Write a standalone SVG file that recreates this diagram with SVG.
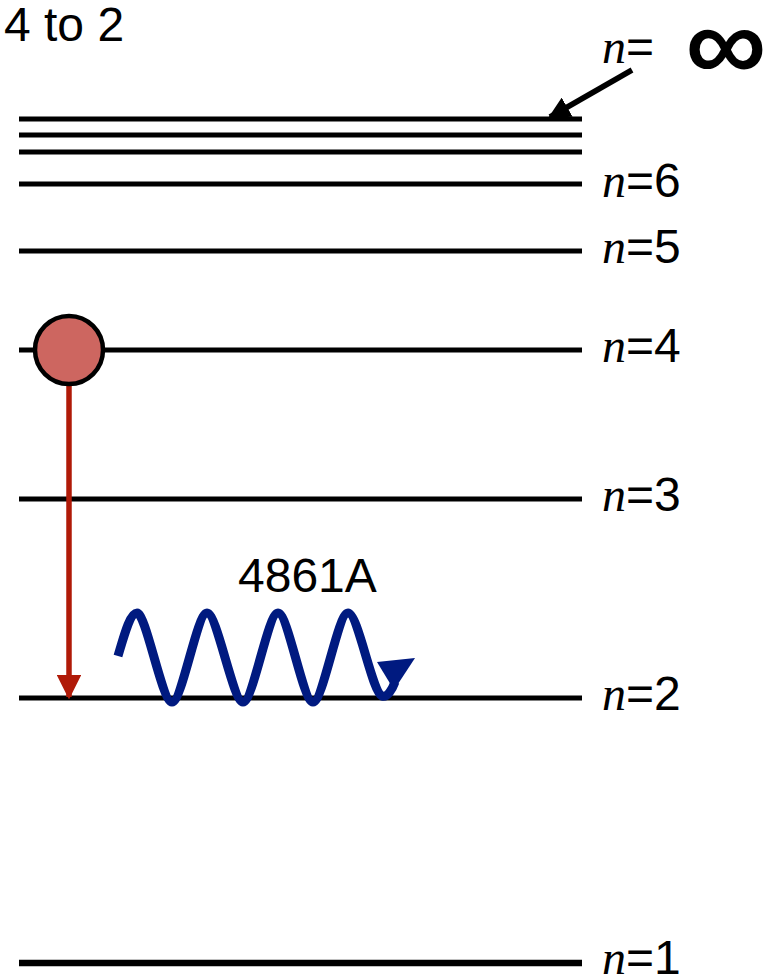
<svg xmlns="http://www.w3.org/2000/svg" width="763" height="977" viewBox="0 0 763 977">
<defs>
<style>
.lvl{stroke:#000;stroke-width:4.8;fill:none}
.t{font-family:"Liberation Sans",Arial,sans-serif;font-size:48px;fill:#000}
.n{font-family:"Liberation Serif","Times New Roman",serif;font-style:italic}
</style>
<marker id="ab" viewBox="0 0 10 10" refX="9" refY="5" markerWidth="4" markerHeight="4" markerUnits="strokeWidth" orient="auto"><path d="M0,0 L10,5 L0,10 Z" fill="#000"/></marker>
<marker id="ar" viewBox="0 0 10 10" refX="9" refY="5" markerWidth="4.5" markerHeight="4.5" markerUnits="strokeWidth" orient="auto"><path d="M0,0 L10,5 L0,10 Z" fill="#b01a08"/></marker>
</defs>
<g id="levels">
<line class="lvl" x1="19" y1="119" x2="582" y2="119"/>
<line class="lvl" x1="19" y1="135" x2="582" y2="135"/>
<line class="lvl" x1="19" y1="152" x2="582" y2="152"/>
<line class="lvl" x1="19" y1="184" x2="582" y2="184"/>
<line class="lvl" x1="19" y1="251" x2="582" y2="251"/>
<line class="lvl" x1="19" y1="350" x2="582" y2="350"/>
<line class="lvl" x1="19" y1="499" x2="582" y2="499"/>
<line class="lvl" x1="19" y1="698" x2="582" y2="698"/>
<line class="lvl" x1="19" y1="963" x2="582" y2="963" style="stroke-width:6.5"/>
</g>
<g id="labels">
<text class="t" x="4" y="41">4 to 2</text>
<text class="t" x="602" y="63"><tspan class="n">n</tspan>=</text>
<text class="t" transform="translate(686,78) scale(1.6,1.4)" x="0" y="0" style="font-size:70px;stroke:#000;stroke-width:1.6">∞</text>
<text class="t" x="602" y="197"><tspan class="n">n</tspan>=6</text>
<text class="t" x="602" y="263"><tspan class="n">n</tspan>=5</text>
<text class="t" x="602" y="362"><tspan class="n">n</tspan>=4</text>
<text class="t" x="602" y="511"><tspan class="n">n</tspan>=3</text>
<text class="t" x="602" y="710"><tspan class="n">n</tspan>=2</text>
<text class="t" x="602" y="974"><tspan class="n">n</tspan>=1</text>
<text class="t" x="238" y="592">4861A</text>
</g>
<g id="connectors">
<line x1="632" y1="70" x2="550" y2="117" stroke="#000" stroke-width="5.5" marker-end="url(#ab)"/>
<line x1="69" y1="384" x2="69" y2="697" stroke="#b01a08" stroke-width="5.5" marker-end="url(#ar)"/>
</g>
<g id="electron">
<circle cx="69" cy="350" r="34" fill="#cd6660" stroke="#000" stroke-width="4.5"/>
</g>
<g id="photon">
<path d="M118,656 C124,636 130,613 137,613 C146,613 162,702 172,702 C182,702 197,613 207,613 C217,613 233,702 243,702 C253,702 268,613 278,613 C288,613 303,702 313,702 C323,702 338,613 348,613 C358,613 372,692 382,696 C387,698 392,690 395,682" fill="none" stroke="#001a80" stroke-width="9" stroke-linecap="butt"/>
<path d="M377,662 L415,658 L394,690 Z" fill="#001a80"/>
</g>
</svg>
